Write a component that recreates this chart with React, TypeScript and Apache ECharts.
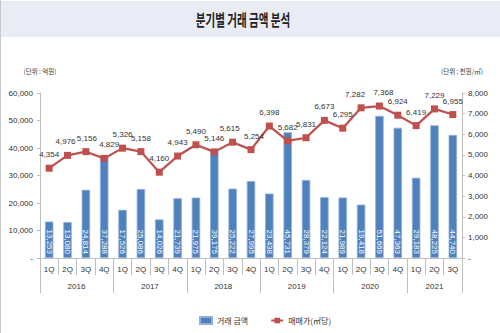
import React, { useEffect, useRef } from "react";
import * as echarts from "echarts";

const quarters = ["1Q","2Q","3Q","4Q","1Q","2Q","3Q","4Q","1Q","2Q","3Q","4Q","1Q","2Q","3Q","4Q","1Q","2Q","3Q","4Q","1Q","2Q","3Q"];
const years = ["2016", "2017", "2018", "2019", "2020", "2021"];
const yearLabelIndex = [1, 5, 9, 13, 17, 21];
const yearStartIndex = [0, 4, 8, 12, 16, 20];
const tradeAmount = [13253, 13080, 24814, 37288, 17526, 25086, 14026, 21739, 21975, 39175, 25222, 27995, 23438, 45731, 28379, 22124, 21989, 19418, 51669, 47363, 29183, 48225, 44740];
const unitPrice = [4354, 4976, 5156, 4829, 5326, 5158, 4160, 4943, 5490, 5146, 5615, 5254, 6398, 5682, 5831, 6673, 6295, 7282, 7368, 6924, 6419, 7229, 6955];
const leftTicks = { min: 0, max: 60000, interval: 10000 };
const rightTicks = { min: 0, max: 8000, interval: 1000 };

const fmt = (v: number) => (v === 0 ? "-" : v.toLocaleString("en-US"));
const numFont = "'Liberation Sans Narrow', 'Liberation Sans', Arial, sans-serif";
const krFont = "'Noto Sans CJK KR', sans-serif";

const labelShift: Record<number, number[]> = { 1: [-2, 0], 2: [1, 0], 3: [5, 0], 17: [-6, 0], 18: [4, 0], 10: [-3, 0], 11: [3, 0] };

export default function App() {
  const ref = useRef<HTMLDivElement>(null);
  useEffect(() => {
    if (!ref.current) return;
    const chart = echarts.init(ref.current, null, { renderer: "svg" });
    const lineData = unitPrice.map((v, i) =>
      labelShift[i] ? { value: v, label: { offset: labelShift[i] } } : v
    );
    chart.setOption({
      animation: false,
      backgroundColor: "#ffffff",
      graphic: [
        { type: "rect", left: 1, top: 1, shape: { width: 499, height: 36 }, style: { fill: "#e9ecf5" }, silent: true },
        { type: "line", shape: { x1: 0.5, y1: 0, x2: 0.5, y2: 333 }, style: { stroke: "#c8c8c8", lineWidth: 1 }, silent: true },
        {
          type: "text", x: 243, y: 19, scaleX: 0.66,
          style: { text: "분기별 거래 금액 분석", fontSize: 16, fontFamily: krFont, fontWeight: "bold", fill: "#222", textAlign: "center", textVerticalAlign: "middle" },
        },
      ],
      grid: { left: 40, right: 38, top: 93, bottom: 75 },
      legend: {
        left: 194, top: 311, itemGap: 22,
        textStyle: { fontSize: 8, fontFamily: krFont, color: "#333" },
        data: [
          { name: "거래 금액", icon: "rect", itemStyle: { color: "#4f81bd" } },
          { name: "매매가(㎡당)" },
        ],
        itemWidth: 12, itemHeight: 7,
      },
      xAxis: [
        {
          type: "category", data: quarters, position: "bottom",
          axisLine: { lineStyle: { color: "#bfbfbf" } },
          axisTick: { show: true, interval: 0, length: 17, lineStyle: { color: "#bfbfbf" } },
          axisLabel: { interval: 0, margin: 7, fontSize: 8, fontFamily: numFont, color: "#333" },
        },
        {
          type: "category", data: quarters, position: "bottom",
          axisLine: { show: false },
          axisTick: { show: true, length: 35, interval: (i: number) => yearStartIndex.includes(i), lineStyle: { color: "#bfbfbf" } },
          axisLabel: {
            interval: 0, margin: 24, fontSize: 8, fontFamily: numFont, color: "#333",
            formatter: (_v: string, i: number) => {
              const k = yearLabelIndex.indexOf(i);
              if (k < 0) return "";
              return k === years.length - 1 ? `{n|${years[k]}}` : `{s|${years[k]}}`;
            },
            rich: {
              s: { padding: [0, 0, 0, 18], fontSize: 8, fontFamily: numFont, color: "#333" },
              n: { fontSize: 8, fontFamily: numFont, color: "#333" },
            },
          },
        },
      ],
      yAxis: [
        {
          type: "value", ...leftTicks, position: "left",
          name: "(단위 : 억원)", nameLocation: "end", nameGap: 19,
          nameTextStyle: { fontSize: 6.5, fontFamily: krFont, color: "#333", align: "center" },
          axisLine: { show: true, lineStyle: { color: "#bfbfbf" } },
          axisTick: { show: true, length: 3, lineStyle: { color: "#bfbfbf" } },
          axisLabel: { margin: 7, fontSize: 8, fontFamily: numFont, color: "#333", formatter: fmt },
          splitLine: { show: false },
        },
        {
          type: "value", ...rightTicks, position: "right",
          name: "(단위 : 천원/㎡)", nameLocation: "end", nameGap: 19,
          nameTextStyle: { fontSize: 6.5, fontFamily: krFont, color: "#333", align: "center" },
          axisLine: { show: true, lineStyle: { color: "#bfbfbf" } },
          axisTick: { show: true, length: 3, lineStyle: { color: "#bfbfbf" } },
          axisLabel: { margin: 6, fontSize: 8, fontFamily: numFont, color: "#333", formatter: fmt },
          splitLine: { show: false },
        },
      ],
      series: [
        {
          name: "거래 금액", type: "bar", data: tradeAmount, xAxisIndex: 0, yAxisIndex: 0,
          barWidth: "46%",
          itemStyle: { color: "#4f81bd", borderColor: "#8fb0da", borderWidth: 0.8 },
          label: {
            show: true, position: "insideBottom", rotate: -90, align: "right", verticalAlign: "middle",
            distance: 4, color: "#ffffff", fontSize: 8, fontFamily: numFont,
            formatter: (p: any) => fmt(p.value),
          },
        },
        {
          name: "매매가(㎡당)", type: "line", data: lineData, xAxisIndex: 0, yAxisIndex: 1,
          symbol: "rect", symbolSize: 7,
          lineStyle: { color: "#c0504d", width: 2.2 },
          itemStyle: { color: "#c0504d" },
          label: {
            show: true, position: "top", distance: 6, color: "#333", fontSize: 8, fontFamily: numFont,
            formatter: (p: any) => fmt(p.value),
          },
        },
      ],
    });
    return () => chart.dispose();
  }, []);
  return <div ref={ref} style={{ position: "fixed", left: 0, top: 0, width: 500, height: 333 }} />;
}
